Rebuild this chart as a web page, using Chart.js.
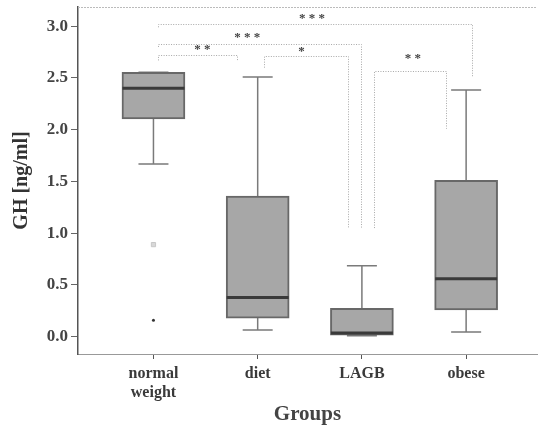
<!DOCTYPE html>
<html lang="en">
<head>
<meta charset="UTF-8">
<title>GH by group</title>
<style>
  html, body { margin: 0; padding: 0; background: #fff; }
  #wrap { width: 542px; height: 434px; }
</style>
</head>
<body>
<div id="wrap"><canvas id="myChart"></canvas></div>
<script src="https://cdn.jsdelivr.net/npm/chart.js"></script>
<script>
// data
const groups = [['normal', 'weight'], 'diet', 'LAGB', 'obese'];
const lowerWhisker = [1.67, 0.065, 0.01, 0.045];
const q1 = [2.105, 0.18, 0.015, 0.26];
const median = [2.40, 0.38, 0.035, 0.56];
const q3 = [2.555, 1.36, 0.275, 1.51];
const upperWhisker = [2.555, 2.51, 0.685, 2.385];
const yTicks = [0, 0.5, 1, 1.5, 2, 2.5, 3];

// outliers (both in normal weight group)
const faintOutliers = [{ x: 1, y: 0.89 }];
const darkOutliers = [{ x: 1, y: 0.16 }];

// significance brackets
const bracketFrom = [1.04, 1.04, 1.04, 2.06, 3.12];
const bracketTo = [4.06, 2.99, 1.80, 2.87, 3.81];
const bracketY = [3.02, 2.83, 2.72, 2.71, 2.57];
const bracketFromEnd = [2.99, 2.80, 2.67, 2.60, 1.05];
const bracketToEnd = [2.51, 1.05, 2.67, 1.05, 2.01];
const bracketLabel = ['* * *', '* * *', '* *', '*', '* *'];
const bracketLabelX = [2.52, 1.90, 1.47, 2.42, 3.49];
const bracketLabelY = [3.10, 2.92, 2.80, 2.78, 2.72];

const serif = '"Liberation Serif", "DejaVu Serif", serif';

const boxPlugin = {
  id: 'boxParts',
  beforeDatasetsDraw(chart) {
    const { ctx, scales: { x, y }, chartArea } = chart;
    ctx.save();
    // top frame line (dotted)
    ctx.strokeStyle = '#bbb';
    ctx.lineWidth = 1;
    ctx.setLineDash([2, 1]);
    ctx.beginPath();
    ctx.moveTo(chartArea.left, chartArea.top + 0.5);
    ctx.lineTo(chartArea.right, chartArea.top + 0.5);
    ctx.stroke();
    ctx.setLineDash([]);
    // whiskers
    ctx.strokeStyle = '#7a7a7a';
    ctx.lineWidth = 1.5;
    for (let i = 0; i < q1.length; i++) {
      const px = x.getPixelForValue(i + 1);
      ctx.beginPath();
      ctx.moveTo(px, y.getPixelForValue(q3[i]));
      ctx.lineTo(px, y.getPixelForValue(upperWhisker[i]));
      ctx.moveTo(px, y.getPixelForValue(q1[i]));
      ctx.lineTo(px, y.getPixelForValue(lowerWhisker[i]));
      ctx.stroke();
      ctx.beginPath();
      [upperWhisker[i], lowerWhisker[i]].forEach(v => {
        const py = y.getPixelForValue(v);
        ctx.moveTo(px - 15, py);
        ctx.lineTo(px + 15, py);
      });
      ctx.stroke();
    }
    ctx.restore();
  },
  afterDatasetsDraw(chart) {
    const { ctx, scales: { x, y } } = chart;
    ctx.save();
    // medians
    ctx.strokeStyle = '#3a3a3a';
    ctx.lineWidth = 3;
    for (let i = 0; i < median.length; i++) {
      const px = x.getPixelForValue(i + 1);
      const py = y.getPixelForValue(median[i]);
      ctx.beginPath();
      ctx.moveTo(px - 31, py);
      ctx.lineTo(px + 31, py);
      ctx.stroke();
    }
    // brackets
    ctx.strokeStyle = '#a8a8a8';
    ctx.lineWidth = 1;
    ctx.setLineDash([1, 1.5]);
    for (let i = 0; i < bracketY.length; i++) {
      const x1 = Math.round(x.getPixelForValue(bracketFrom[i])) + 0.5;
      const x2 = Math.round(x.getPixelForValue(bracketTo[i])) + 0.5;
      const py = Math.round(y.getPixelForValue(bracketY[i])) + 0.5;
      ctx.beginPath();
      ctx.moveTo(x1, y.getPixelForValue(bracketFromEnd[i]));
      ctx.lineTo(x1, py);
      ctx.lineTo(x2, py);
      ctx.lineTo(x2, y.getPixelForValue(bracketToEnd[i]));
      ctx.stroke();
    }
    ctx.setLineDash([]);
    ctx.fillStyle = '#444';
    ctx.font = 'bold 13px ' + serif;
    ctx.textAlign = 'center';
    ctx.textBaseline = 'middle';
    for (let i = 0; i < bracketLabel.length; i++) {
      ctx.fillText(bracketLabel[i], x.getPixelForValue(bracketLabelX[i]),
        y.getPixelForValue(bracketLabelY[i]) + 3);
    }
    ctx.restore();
  }
};

new Chart(document.getElementById('myChart'), {
  type: 'bar',
  data: {
    datasets: [
      {
        type: 'bar',
        data: q1.map((v, i) => ({ x: i + 1, y: [v, q3[i]] })),
        backgroundColor: '#a7a7a7',
        borderColor: '#686868',
        borderWidth: 2,
        borderSkipped: false,
        barThickness: 63
      },
      {
        type: 'scatter',
        data: faintOutliers,
        pointStyle: 'rect',
        pointRadius: 3,
        backgroundColor: '#d8d8d8',
        borderColor: '#c8c8c8',
        borderWidth: 1
      },
      {
        type: 'scatter',
        data: darkOutliers,
        pointRadius: 1.5,
        backgroundColor: '#333',
        borderColor: '#333',
        borderWidth: 0
      }
    ]
  },
  options: {
    responsive: true,
    maintainAspectRatio: false,
    animation: false,
    layout: { padding: { top: 7, right: 1, left: 0, bottom: 0 } },
    plugins: { legend: { display: false }, tooltip: { enabled: false } },
    scales: {
      x: {
        type: 'linear',
        offset: false,
        min: 0.276,
        max: 4.68,
        afterBuildTicks: s => { s.ticks = groups.map((g, i) => ({ value: i + 1 })); },
        afterFit: s => { s.height = 80; s.paddingLeft = 0; s.paddingRight = 0; },
        ticks: {
          callback: (v) => groups[v - 1],
          color: '#3a3a3a',
          font: { family: serif, size: 16, weight: 'bold', lineHeight: 1.2 },
          padding: 5,
          maxRotation: 0
        },
        grid: { offset: false, drawOnChartArea: false, drawTicks: true, tickLength: 5, color: '#555' },
        border: { color: '#999', width: 1 },
        title: {
          display: true,
          text: 'Groups',
          color: '#444',
          font: { family: serif, size: 21, weight: 'bold' },
          padding: { top: 0, bottom: 7 }
        }
      },
      y: {
        min: -0.167,
        max: 3.186,
        afterBuildTicks: s => { s.ticks = yTicks.map(v => ({ value: v })); },
        afterFit: s => { s.width = 78; s.paddingTop = 0; s.paddingBottom = 0; },
        ticks: {
          callback: v => v.toFixed(1),
          color: '#444',
          font: { family: serif, size: 17, weight: 'bold' },
          padding: 3
        },
        grid: { drawOnChartArea: false, drawTicks: true, tickLength: 7, color: '#666' },
        border: { color: '#555', width: 1.5, dash: [2, 1] },
        title: {
          display: true,
          text: 'GH [ng/ml]',
          color: '#333',
          font: { family: serif, size: 20, weight: 'bold' },
          padding: { top: 10, bottom: 0 }
        }
      }
    }
  },
  plugins: [boxPlugin]
});
</script>
</body>
</html>
